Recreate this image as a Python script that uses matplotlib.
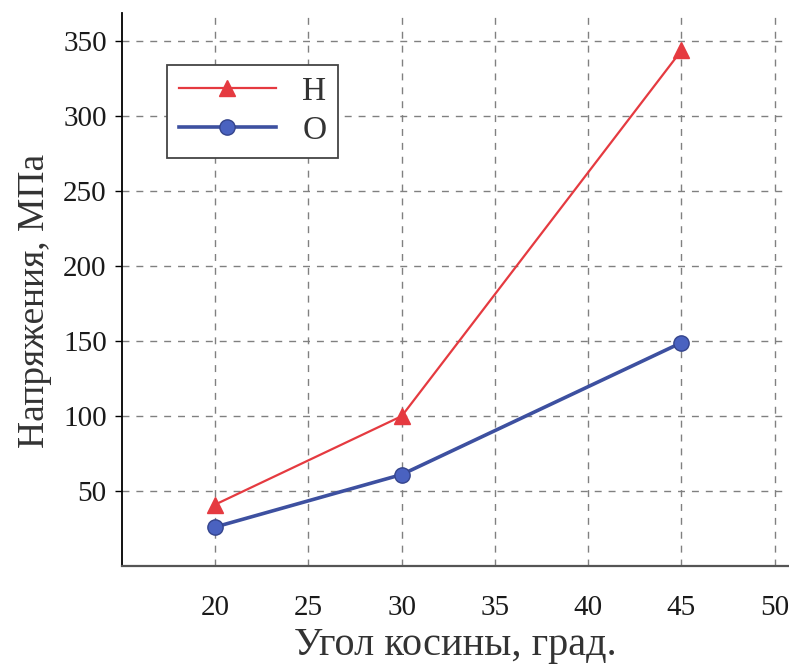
import matplotlib.pyplot as plt

angle = [20, 30, 45]
stress_h = [41, 100, 344]
stress_o = [26, 61, 149]
labels = ['Н', 'О']
xticks = [20, 25, 30, 35, 40, 45, 50]
yticks = [50, 100, 150, 200, 250, 300, 350]

plt.rcParams['font.family'] = ['Liberation Serif', 'DejaVu Serif']

fig = plt.figure(figsize=(7.89, 6.69), dpi=100)
ax = fig.add_axes([0.1546, 0.154, 0.845, 0.8266])

ax.plot(angle, stress_h, color='#e53a40', lw=1.6, marker='^', ms=12,
        mfc='#e53a40', mec='#e53a40', label=labels[0], zorder=3)
ax.plot(angle, stress_o, color='#3d50a0', lw=2.6, marker='o', ms=11,
        mfc='#4a62c0', mec='#34448c', label=labels[1], zorder=3)

ax.set_xlim(15, 50.75)
ax.set_ylim(0, 369)
ax.set_xticks(xticks)
ax.set_yticks(yticks)
ax.tick_params(axis='x', length=0, pad=21, labelsize=21, labelcolor='#1a1a1a')
ax.tick_params(axis='y', length=5, width=1, direction='out', pad=6, labelsize=21,
               labelcolor='#1a1a1a')
ax.grid(True, ls=(0, (5, 5)), color='#808080', lw=1)
ax.set_axisbelow(True)

for s in ['top', 'right']:
    ax.spines[s].set_visible(False)
ax.spines['left'].set_linewidth(1.3)
ax.spines['bottom'].set_linewidth(1.6)
ax.spines['bottom'].set_color('#555555')

ax.set_xlabel('Угол косины, град.', fontsize=29, labelpad=4, color='#333333')
ax.set_ylabel('Напряжения, МПа', fontsize=27, labelpad=8, color='#333333', y=0.48)

leg = ax.legend(loc='upper left', bbox_to_anchor=(0.068, 0.906), fontsize=24,
                handlelength=2.9, handletextpad=0.8, borderpad=0.35,
                labelspacing=0.25, fancybox=False, framealpha=1, borderaxespad=0)
leg.get_frame().set_edgecolor('#444444')
leg.get_frame().set_linewidth(1.3)
for t in leg.get_texts():
    t.set_fontweight('light')
    t.set_color('#333333')

fig.savefig('out.png', dpi=100)
